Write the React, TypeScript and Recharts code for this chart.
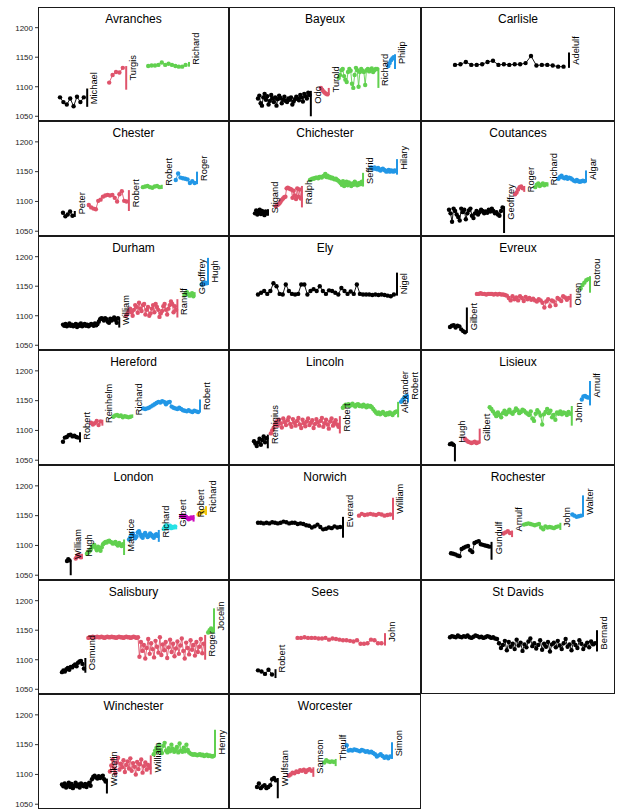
import React from 'react';
import { ComposedChart, Scatter, XAxis, YAxis, ReferenceLine } from 'recharts';

type Bishop = { name: string; values: number[]; bar: [number, number] };

// ---------------- data (one array of bishops per see) ----------------
const avranches: Bishop[] = [
  { name: 'Michael', values: [1082, 1074, 1070, 1080, 1067, 1083, 1074, 1082], bar: [1066, 1097] },
  { name: 'Turgis', values: [1107, 1120, 1125, 1124, 1132], bar: [1095, 1135] },
  { name: 'Richard', values: [1135, 1136, 1136, 1137, 1141, 1137, 1139, 1137, 1135, 1134, 1134, 1137], bar: [1134, 1142] },
];
const bayeux: Bishop[] = [
  { name: 'Odo', values: [1080, 1085, 1072, 1068, 1082, 1088, 1078, 1084, 1070, 1076, 1086, 1080, 1074, 1082, 1068, 1079, 1085, 1081, 1072, 1078, 1083, 1076, 1074, 1080, 1078, 1082, 1070, 1075, 1079, 1083, 1080, 1077, 1086, 1082, 1075, 1088, 1084, 1080, 1090, 1086], bar: [1050, 1093] },
  { name: 'Turold', values: [1098, 1095, 1092, 1090, 1088, 1087], bar: [1086, 1098] },
  { name: 'Richard', values: [1115, 1120, 1128, 1130, 1118, 1112, 1108, 1125, 1130, 1127, 1105, 1098, 1120, 1132, 1128, 1100, 1125, 1130, 1127, 1125, 1103, 1128, 1130, 1126, 1129, 1131, 1125, 1128, 1130, 1130], bar: [1098, 1132] },
  { name: 'Philip', values: [1135, 1140, 1145, 1148, 1150], bar: [1130, 1155] },
];
const carlisle: Bishop[] = [
  { name: 'Adelulf', values: [1137, 1138, 1142, 1137, 1137, 1138, 1142, 1144, 1137, 1138, 1137, 1138, 1138, 1140, 1152, 1136, 1137, 1137, 1136, 1134, 1134], bar: [1132, 1158] },
];
const chester: Bishop[] = [
  { name: 'Peter', values: [1081, 1075, 1078, 1083, 1076], bar: [1074, 1084] },
  { name: 'Robert', values: [1094, 1090, 1088, 1087, 1101, 1103, 1108, 1110, 1111, 1110, 1111, 1106, 1100, 1112, 1117, 1101, 1100], bar: [1084, 1119] },
  { name: 'Robert', values: [1124, 1125, 1126, 1124, 1123, 1125, 1126, 1124], bar: [1121, 1128] },
  { name: 'Roger', values: [1136, 1147, 1140, 1139, 1138, 1137, 1131, 1134, 1131], bar: [1129, 1150] },
];
const chichester: Bishop[] = [
  { name: 'Stigand', values: [1080, 1085, 1078, 1082, 1086, 1079, 1084, 1081, 1077, 1083, 1080], bar: [1076, 1087] },
  { name: 'Ralph', values: [1092, 1094, 1095, 1097, 1100, 1103, 1105, 1107, 1108, 1122, 1123, 1122, 1121, 1120, 1106, 1118, 1110, 1104, 1122, 1108, 1120, 1105], bar: [1090, 1126] },
  { name: 'Seffrid', values: [1136, 1137, 1138, 1138, 1139, 1140, 1140, 1139, 1141, 1141, 1140, 1142, 1143, 1146, 1141, 1143, 1140, 1141, 1139, 1140, 1138, 1137, 1138, 1136, 1135, 1133, 1131, 1128, 1134, 1126, 1130, 1133, 1127, 1132, 1129, 1126, 1130, 1128, 1133, 1131, 1127, 1128, 1131, 1129, 1133], bar: [1125, 1148] },
  { name: 'Hilary', values: [1157, 1156, 1155, 1157, 1155, 1154, 1156, 1153, 1152, 1154, 1155, 1153, 1152, 1150, 1151, 1153, 1150, 1152, 1151, 1150, 1152, 1151], bar: [1145, 1171] },
];
const coutances: Bishop[] = [
  { name: 'Geoffrey', values: [1086, 1080, 1066, 1088, 1084, 1078, 1074, 1068, 1088, 1082, 1086, 1070, 1080, 1085, 1088, 1076, 1072, 1080, 1084, 1078, 1082, 1086, 1084, 1080, 1083, 1081, 1086, 1083, 1088, 1084, 1080, 1082, 1078, 1076, 1084, 1090], bar: [1047, 1092] },
  { name: 'Roger', values: [1112, 1115, 1120, 1124, 1125, 1122], bar: [1116, 1126] },
  { name: 'Richard', values: [1124, 1128, 1130, 1126, 1128, 1130, 1127, 1129], bar: [1125, 1132] },
  { name: 'Algar', values: [1138, 1141, 1143, 1140, 1139, 1141, 1138, 1140, 1139, 1137, 1135, 1134, 1136, 1134, 1133, 1134, 1135, 1134], bar: [1132, 1152] },
];
const durham: Bishop[] = [
  { name: 'William', values: [1085, 1083, 1086, 1082, 1084, 1087, 1083, 1085, 1082, 1084, 1086, 1081, 1085, 1083, 1087, 1082, 1084, 1086, 1083, 1085, 1082, 1084, 1086, 1085, 1083, 1087, 1084, 1086, 1090, 1094, 1096, 1095, 1092, 1096, 1094, 1090, 1088, 1095, 1092, 1094, 1097, 1093, 1088, 1096], bar: [1080, 1097] },
  { name: 'Ranulf', values: [1100, 1104, 1108, 1112, 1106, 1100, 1110, 1118, 1115, 1105, 1122, 1112, 1108, 1118, 1120, 1102, 1110, 1115, 1100, 1104, 1112, 1118, 1106, 1120, 1115, 1110, 1098, 1104, 1108, 1116, 1120, 1110, 1102, 1112, 1118, 1124, 1120, 1106, 1116, 1110], bar: [1097, 1128] },
  { name: 'Geoffrey', values: [1135, 1138, 1140, 1137, 1134, 1135, 1138, 1133], bar: [1133, 1140] },
  { name: 'Hugh', values: [1153, 1155, 1154, 1156, 1155], bar: [1152, 1198] },
];
const ely: Bishop[] = [
  { name: 'Nigel', values: [1136, 1139, 1142, 1137, 1142, 1155, 1150, 1137, 1136, 1153, 1142, 1137, 1136, 1137, 1153, 1153, 1136, 1142, 1145, 1142, 1150, 1142, 1137, 1143, 1142, 1139, 1136, 1147, 1142, 1137, 1141, 1137, 1153, 1137, 1136, 1136, 1136, 1135, 1136, 1135, 1136, 1135, 1134, 1133, 1136], bar: [1134, 1173] },
];
const evreux: Bishop[] = [
  { name: 'Gilbert', values: [1081, 1083, 1084, 1080, 1083, 1082, 1077, 1074, 1072], bar: [1071, 1114] },
  { name: 'Ouen', values: [1137, 1137, 1138, 1137, 1137, 1136, 1137, 1137, 1137, 1136, 1137, 1136, 1137, 1136, 1136, 1135, 1134, 1130, 1126, 1133, 1128, 1131, 1126, 1133, 1130, 1125, 1132, 1128, 1130, 1127, 1129, 1126, 1124, 1128, 1126, 1122, 1114, 1124, 1128, 1116, 1126, 1124, 1118, 1130, 1128, 1125, 1133, 1131, 1127, 1130], bar: [1114, 1137] },
  { name: 'Rotrou', values: [1146, 1152, 1156, 1160, 1162], bar: [1139, 1167] },
];
const hereford: Bishop[] = [
  { name: 'Robert', values: [1081, 1088, 1089, 1092, 1093, 1090, 1091, 1089, 1088], bar: [1080, 1097] },
  { name: 'Reinhelm', values: [1113, 1110, 1112, 1116, 1109, 1115], bar: [1108, 1118] },
  { name: 'Richard', values: [1123, 1125, 1126, 1124, 1125, 1122, 1124, 1123, 1122, 1123], bar: [1121, 1127] },
  { name: 'Robert', values: [1137, 1136, 1137, 1138, 1140, 1142, 1144, 1146, 1148, 1147, 1149, 1148, 1144, 1147, 1148, 1140, 1138, 1137, 1136, 1138, 1136, 1134, 1133, 1132, 1134, 1132, 1131, 1133, 1132, 1131], bar: [1130, 1152] },
];
const lincoln: Bishop[] = [
  { name: 'Remigius', values: [1082, 1078, 1074, 1080, 1086, 1076, 1084, 1090, 1080, 1087], bar: [1070, 1093] },
  { name: 'Robert', values: [1095, 1100, 1104, 1110, 1115, 1108, 1118, 1112, 1105, 1120, 1114, 1109, 1117, 1122, 1111, 1106, 1119, 1113, 1108, 1116, 1121, 1110, 1104, 1118, 1112, 1107, 1115, 1120, 1109, 1113, 1117, 1104, 1111, 1119, 1114, 1108, 1116, 1121, 1106, 1112, 1118, 1110, 1103, 1115, 1120, 1108, 1113, 1117, 1110, 1106], bar: [1095, 1124] },
  { name: 'Alexander', values: [1138, 1141, 1143, 1142, 1144, 1141, 1143, 1145, 1142, 1140, 1143, 1144, 1141, 1142, 1140, 1143, 1141, 1139, 1142, 1140, 1141, 1139, 1136, 1133, 1130, 1128, 1130, 1127, 1129, 1131, 1128, 1126, 1129, 1127, 1130, 1128, 1126, 1129, 1131, 1132], bar: [1122, 1148] },
  { name: 'Robert', values: [1148, 1151, 1154, 1156, 1158], bar: [1147, 1160] },
];
const lisieux: Bishop[] = [
  { name: 'Hugh', values: [1077, 1078, 1076], bar: [1048, 1077] },
  { name: 'Gilbert', values: [1086, 1083, 1081, 1080, 1079, 1080, 1081, 1079, 1080], bar: [1078, 1103] },
  { name: 'John', values: [1139, 1136, 1132, 1128, 1124, 1130, 1126, 1122, 1129, 1133, 1127, 1131, 1135, 1130, 1128, 1132, 1137, 1134, 1129, 1131, 1135, 1133, 1130, 1128, 1126, 1132, 1120, 1116, 1128, 1134, 1130, 1125, 1110, 1127, 1131, 1136, 1129, 1133, 1122, 1126, 1118, 1130, 1128, 1132, 1127, 1130, 1129, 1126, 1131, 1128], bar: [1108, 1141] },
  { name: 'Arnulf', values: [1152, 1157, 1158, 1156, 1155], bar: [1142, 1183] },
];
const london: Bishop[] = [
  { name: 'William', values: [1074, 1077, 1075], bar: [1050, 1074] },
  { name: 'Hugh', values: [1078, 1081, 1084, 1082, 1080], bar: [1077, 1086] },
  { name: 'Maurice', values: [1086, 1088, 1090, 1093, 1097, 1099, 1101, 1096, 1092, 1098, 1094, 1091, 1097, 1102, 1104, 1106, 1105, 1107, 1108, 1106, 1105, 1103, 1104, 1106, 1102, 1100, 1104, 1101, 1099, 1102], bar: [1084, 1110] },
  { name: 'Richard', values: [1110, 1114, 1118, 1120, 1116, 1112, 1115, 1122, 1124, 1119, 1115, 1113, 1118, 1121, 1117, 1114, 1116, 1120, 1118, 1115, 1113, 1117, 1119, 1116], bar: [1106, 1126] },
  { name: 'Gilbert', values: [1128, 1132, 1134, 1130, 1131, 1133, 1129, 1131, 1130, 1132], bar: [1127, 1134] },
  { name: 'Robert', values: [1149, 1150, 1150, 1149, 1148, 1146, 1144, 1145, 1147, 1146], bar: [1140, 1151] },
  { name: 'Richard', values: [1152, 1154, 1155, 1157, 1158, 1157], bar: [1151, 1166] },
];
const norwich: Bishop[] = [
  { name: 'Everard', values: [1138, 1138, 1137, 1138, 1137, 1139, 1138, 1137, 1138, 1140, 1139, 1137, 1138, 1138, 1136, 1137, 1136, 1134, 1133, 1130, 1132, 1135, 1131, 1127, 1128, 1130, 1129, 1132, 1130, 1131], bar: [1113, 1148] },
  { name: 'William', values: [1150, 1153, 1151, 1152, 1153, 1152, 1151, 1153, 1152, 1150, 1151, 1152], bar: [1143, 1180] },
];
const rochester: Bishop[] = [
  { name: 'Gundulf', values: [1087, 1086, 1085, 1083, 1082, 1094, 1096, 1098, 1099, 1092, 1089, 1104, 1106, 1107, 1102, 1101, 1100, 1099, 1098], bar: [1076, 1106] },
  { name: 'Arnulf', values: [1120, 1122, 1124, 1121], bar: [1114, 1125] },
  { name: 'John', values: [1135, 1136, 1137, 1136, 1135, 1134, 1135, 1136, 1130, 1127, 1132, 1130, 1131, 1130, 1129, 1131, 1132], bar: [1126, 1138] },
  { name: 'Walter', values: [1152, 1150, 1148, 1149, 1150], bar: [1148, 1184] },
];
const salisbury: Bishop[] = [
  { name: 'Osmund', values: [1079, 1082, 1080, 1084, 1086, 1083, 1088, 1087, 1090, 1092, 1089, 1095, 1097, 1098, 1093, 1085], bar: [1078, 1103] },
  { name: 'Roger', values: [1137, 1138, 1138, 1139, 1138, 1138, 1139, 1138, 1138, 1139, 1138, 1137, 1138, 1139, 1138, 1138, 1139, 1138, 1138, 1137, 1138, 1139, 1138, 1138, 1137, 1138, 1139, 1138, 1138, 1137, 1138, 1139, 1138, 1137, 1138, 1105, 1130, 1115, 1125, 1102, 1120, 1135, 1110, 1128, 1118, 1104, 1132, 1122, 1112, 1138, 1108, 1126, 1116, 1130, 1103, 1121, 1134, 1113, 1127, 1106, 1119, 1131, 1110, 1124, 1136, 1115, 1102, 1129, 1120, 1109, 1133, 1117, 1125, 1107, 1130, 1113, 1122, 1135, 1111, 1127], bar: [1100, 1142] },
  { name: 'Jocelin', values: [1146, 1150, 1153, 1148], bar: [1146, 1187] },
];
const sees: Bishop[] = [
  { name: 'Robert', values: [1082, 1080, 1076, 1083, 1075], bar: [1069, 1084] },
  { name: 'John', values: [1137, 1137, 1138, 1137, 1137, 1137, 1136, 1136, 1137, 1134, 1136, 1135, 1134, 1133, 1133, 1132, 1131, 1133, 1127, 1127, 1128, 1134, 1133, 1128, 1128], bar: [1124, 1145] },
];
const stDavids: Bishop[] = [
  { name: 'Bernard', values: [1138, 1140, 1139, 1138, 1141, 1139, 1138, 1140, 1139, 1141, 1138, 1137, 1139, 1141, 1140, 1138, 1139, 1137, 1138, 1140, 1139, 1137, 1138, 1136, 1135, 1128, 1120, 1125, 1132, 1116, 1130, 1122, 1127, 1118, 1134, 1124, 1129, 1115, 1126, 1121, 1131, 1136, 1123, 1128, 1119, 1125, 1133, 1117, 1127, 1122, 1130, 1114, 1126, 1129, 1121, 1132, 1124, 1118, 1128, 1135, 1122, 1126, 1116, 1130, 1125, 1120, 1133, 1127, 1118, 1124, 1129, 1121, 1131, 1126, 1128], bar: [1114, 1150] },
];
const winchester: Bishop[] = [
  { name: 'Walkelin', values: [1083, 1080, 1085, 1078, 1082, 1086, 1079, 1084, 1077, 1081, 1086, 1080, 1083, 1078, 1085, 1082, 1080, 1084, 1079, 1083, 1086, 1081, 1092, 1096, 1098, 1095, 1093, 1097, 1094, 1096, 1098, 1092, 1088], bar: [1068, 1093] },
  { name: 'William', values: [1105, 1115, 1125, 1110, 1102, 1120, 1128, 1108, 1118, 1112, 1124, 1104, 1116, 1122, 1110, 1127, 1106, 1119, 1113, 1100, 1121, 1109, 1117, 1125, 1103, 1114, 1120, 1108, 1116, 1111], bar: [1100, 1132] },
  { name: 'Henry', values: [1134, 1140, 1145, 1138, 1150, 1142, 1136, 1148, 1153, 1140, 1137, 1144, 1139, 1150, 1143, 1138, 1141, 1146, 1137, 1152, 1140, 1138, 1145, 1139, 1150, 1141, 1137, 1135, 1134, 1133, 1134, 1133, 1132, 1133, 1134, 1132, 1133, 1131, 1132, 1133, 1131, 1132, 1131, 1130, 1131], bar: [1130, 1175] },
];
const worcester: Bishop[] = [
  { name: 'Wulfstan', values: [1079, 1085, 1077, 1080, 1082, 1077, 1079, 1082, 1092, 1094, 1090], bar: [1060, 1094] },
  { name: 'Samson', values: [1098, 1100, 1103, 1102, 1105, 1104, 1107, 1106, 1108, 1104, 1107, 1109, 1106], bar: [1096, 1112] },
  { name: 'Theulf', values: [1120, 1124, 1122, 1121, 1122, 1121], bar: [1114, 1126] },
  { name: 'Simon', values: [1149, 1140, 1141, 1140, 1142, 1141, 1140, 1139, 1141, 1140, 1138, 1139, 1137, 1138, 1136, 1134, 1130, 1132, 1134, 1131, 1128, 1130, 1127, 1130], bar: [1126, 1154] },
];

const seeNames = ['Avranches', 'Bayeux', 'Carlisle', 'Chester', 'Chichester', 'Coutances', 'Durham', 'Ely', 'Evreux', 'Hereford', 'Lincoln', 'Lisieux', 'London', 'Norwich', 'Rochester', 'Salisbury', 'Sees', 'St Davids', 'Winchester', 'Worcester'];
const seeBishops = [avranches, bayeux, carlisle, chester, chichester, coutances, durham, ely, evreux, hereford, lincoln, lisieux, london, norwich, rochester, salisbury, sees, stDavids, winchester, worcester];
const yTicks = [1050, 1100, 1150, 1200];

// ---------------- layout / style ----------------
// per panel: [left padding px, right padding px, gap between bishops px]
const LAYOUT: [number, number, number][] = [
  [22, 40, 22], [29, 26, 10], [34, 46, 0],
  [25, 32, 14], [26, 24, 8], [28, 29, 11],
  [25, 21, 7], [29, 24, 0], [29, 25, 10],
  [25, 29, 11], [25, 13, 3], [29, 25, 10],
  [29, 23, 5], [29, 28, 16], [30, 32, 12],
  [24, 15, 3], [29, 36, 22], [29, 18, 0],
  [24, 14, 3], [28, 29, 11],
];
const COLS = [38, 229, 421, 615];
const ROWS = [7, 121, 236, 350, 465, 580, 694, 809];
const PALETTE = ['#000000', '#DF536B', '#61D04F', '#2297E6', '#28E2E5', '#CD0BBC', '#F5C710', '#9E9E9E'];
const Y_DOMAIN: [number, number] = [1042, 1235];
const AXIS_W = 34;
const FONT = '"Liberation Sans", Arial, Helvetica, sans-serif';

const makeDot = (color: string) => (p: any) => (
  <circle cx={p.cx} cy={p.cy} r={2.2} fill={color} />
);

const makeLabel = (name: string) => (p: any) => {
  const x = p.cx + 7;
  const y = p.cy - 2;
  return (
    <text x={x} y={y} transform={`rotate(-90 ${x} ${y})`} fontSize={9.3} fontFamily={FONT} fill="#000" textAnchor="start" dominantBaseline="central">
      {name}
    </text>
  );
};

function Panel({ idx }: { idx: number }) {
  const title = seeNames[idx];
  const bishops = seeBishops[idx];
  const col = idx % 3;
  const row = Math.floor(idx / 3);
  const left = COLS[col];
  const w = COLS[col + 1] - COLS[col];
  const top = ROWS[row];
  const h = ROWS[row + 1] - ROWS[row];
  const [padL, padR, gapPx] = LAYOUT[idx];
  const plotW = w - padL - padR;
  const S = bishops.reduce((a, b) => a + b.values.length, 0);
  const k = bishops.length;
  const g = k > 1 ? (gapPx * S) / (plotW - (k - 1) * gapPx) : 0;
  let s = 0;
  const groups = bishops.map((b, i) => {
    const pts = b.values.map((v, j) => ({ x: s + j, y: v }));
    const bx = s + b.values.length;
    s = bx + g;
    return { ...b, pts, bx, color: PALETTE[i % PALETTE.length] };
  });
  const N = groups[groups.length - 1].bx;
  const axisW = col === 0 ? AXIS_W : 0;

  return (
    <>
      <div style={{ position: 'absolute', left, top, width: w, height: h, border: '1px solid #1a1a1a', boxSizing: 'border-box' }} />
      <div style={{ position: 'absolute', left, top: top + 6, width: w, textAlign: 'center', fontSize: 12, lineHeight: '12px', fontFamily: FONT, color: '#000' }}>
        {title}
      </div>
      <div style={{ position: 'absolute', left: left - axisW, top }}>
        <ComposedChart width={w + axisW} height={h} margin={{ top: 0, right: 0, bottom: 0, left: 0 }}>
          <XAxis type="number" dataKey="x" domain={[0, N + 0.001]} hide padding={{ left: padL, right: padR }} />
          <YAxis
            type="number"
            dataKey="y"
            domain={Y_DOMAIN}
            ticks={yTicks}
            interval={0}
            hide={col !== 0}
            width={AXIS_W}
            axisLine={false}
            tickSize={3}
            tickMargin={2}
            tickLine={{ stroke: '#333' }}
            tick={{ fontSize: 8, fill: '#222', fontFamily: FONT }}
          />
          {groups.map((gr, i) => (
            <Scatter
              key={'p' + i}
              data={gr.pts}
              fill={gr.color}
              line={{ stroke: gr.color, strokeWidth: 0.9 }}
              shape={makeDot(gr.color)}
              isAnimationActive={false}
            />
          ))}
          {groups.map((gr, i) => (
            <ReferenceLine
              key={'b' + i}
              segment={[{ x: gr.bx, y: gr.bar[0] }, { x: gr.bx, y: gr.bar[1] }]}
              stroke={gr.color}
              strokeWidth={2}
              ifOverflow="visible"
            />
          ))}
          {groups.map((gr, i) => (
            <Scatter
              key={'l' + i}
              data={[{ x: gr.bx, y: Math.min(...gr.values) }]}
              shape={makeLabel(gr.name)}
              isAnimationActive={false}
            />
          ))}
        </ComposedChart>
      </div>
    </>
  );
}

export default function App() {
  return (
    <div style={{ position: 'absolute', left: 0, top: 0, width: 623, height: 812, background: '#fff' }}>
      {seeNames.map((_, i) => (
        <Panel key={i} idx={i} />
      ))}
    </div>
  );
}
